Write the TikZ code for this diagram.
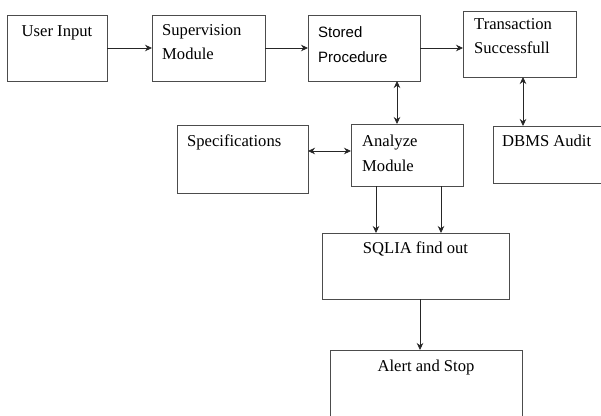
\documentclass[tikz,border=0pt]{standalone}
\usepackage{fontspec}
\setmainfont{Liberation Serif}
\newfontfamily\spfont{Liberation Sans}
\usetikzlibrary{arrows.meta}
\tikzset{
  box/.style={draw=black!70, line width=0.9pt, inner sep=0pt, outer sep=0pt, anchor=north west},
  lbl/.style={inner sep=0pt, anchor=base west, align=left, font=\fontsize{16.6}{24.5}\selectfont},
  clbl/.style={inner sep=0pt, anchor=base, font=\fontsize{16.6}{24.5}\selectfont},
  conn/.style={line width=0.8pt, black!85, -{Stealth[length=7pt,width=6.5pt]}},
  bconn/.style={line width=0.8pt, black!85, {Stealth[length=7pt,width=6.5pt]}-{Stealth[length=7pt,width=6.5pt]}},
  plain/.style={line width=0.8pt, black!70}
}
\begin{document}
\begin{tikzpicture}[x=1pt,y=-1pt]
\useasboundingbox (0,0) rectangle (601,415);
\clip (0,0) rectangle (601,415);
% boxes
\node[box, minimum width=100pt, minimum height=66pt] (ui) at (7,15) {};
\node[box, minimum width=113pt, minimum height=66pt] (sm) at (152,15) {};
\node[box, minimum width=112pt, minimum height=66pt] (sp) at (308,15) {};
\node[box, minimum width=113pt, minimum height=66pt] (ts) at (463,11) {};
\node[box, minimum width=131pt, minimum height=68pt] (spec) at (177,125) {};
\node[box, minimum width=112pt, minimum height=62pt] (am) at (351,124) {};
\node[box, minimum width=130pt, minimum height=57pt] (db) at (493,126) {};
\node[box, minimum width=187pt, minimum height=66pt] (sq) at (322,233) {};
\node[box, minimum width=192pt, minimum height=80pt] (al) at (330,350) {};
% labels (anchor is the baseline of the last line)
\node[clbl] (tui) at (57,36.5) {User Input};
\node[lbl] (tsm) at (162,59.5) {Supervision\\Module};
\node[lbl, font=\spfont\fontsize{15}{24.5}\selectfont] (tsp) at (318,62) {Stored\\Procedure};
\node[lbl] (tts) at (474,53.5) {Transaction\\Successfull};
\node[lbl] (tspec) at (187,146) {Specifications};
\node[lbl] (tam) at (362,171) {Analyze\\Module};
\node[lbl] (tdb) at (502,146) {DBMS Audit};
\node[clbl] (tsq) at (415.5,253) {SQLIA find out};
\node[clbl] (tal) at (426,371) {Alert and Stop};
% connectors
\coordinate (x1) at (397,0);
\coordinate (x2) at (523,0);
\coordinate (x3) at (376,0);
\coordinate (x4) at (441,0);
\coordinate (x5) at (420,0);
\coordinate (y1) at (0,151);
\draw[conn] (ui.east) -- (sm.west);
\draw[conn] (sm.east) -- (sp.west);
\draw[conn] (sp.east) -- (sp.east -| ts.west);
\draw[bconn] (x1 |- sp.south) -- (x1 |- am.north);
\draw[bconn] (x2 |- ts.south) -- (x2 |- db.north);
\draw[bconn] (y1 -| spec.east) -- (y1 -| am.west);
\draw[conn] (x3 |- am.south) -- (x3 |- sq.north);
\draw[conn] (x4 |- am.south) -- (x4 |- sq.north);
\draw[conn] (x5 |- sq.south) -- (x5 |- al.north);
\end{tikzpicture}
\end{document}
